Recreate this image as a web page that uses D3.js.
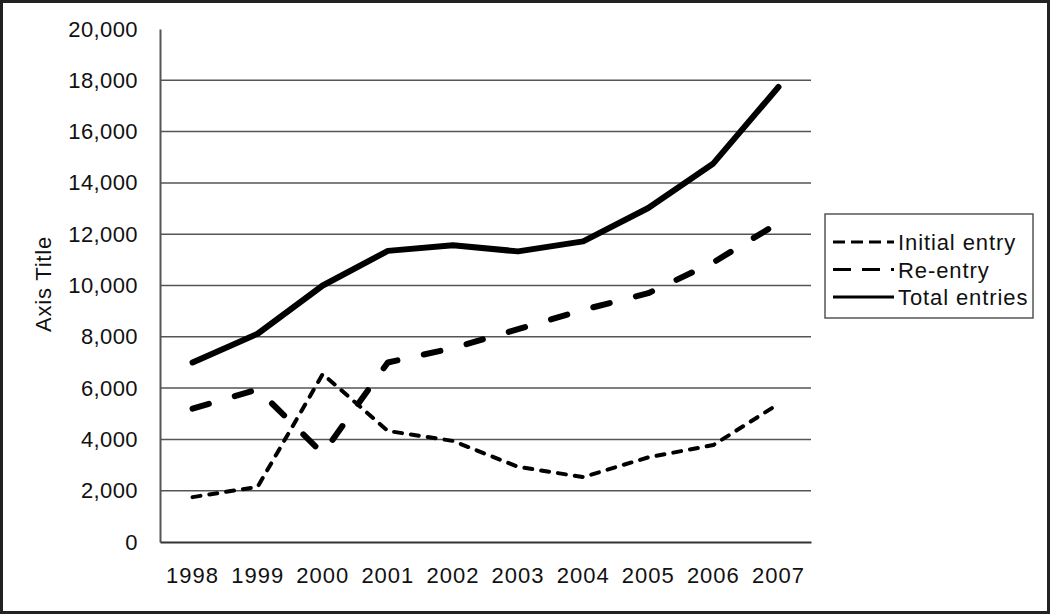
<!DOCTYPE html>
<html>
<head>
<meta charset="utf-8">
<script src="https://cdn.jsdelivr.net/npm/d3@7"></script>
<style>
  body { margin: 0; background: #fff; }
  text { font-family: "Liberation Sans", Arial, sans-serif; fill: #111; }
</style>
</head>
<body>
<div id="chart"></div>
<script>
// values
var years = ["1998", "1999", "2000", "2001", "2002", "2003", "2004", "2005", "2006", "2007"];
var initialEntry = [1750, 2150, 6550, 4330, 3940, 2930, 2530, 3300, 3780, 5380];
var reEntry = [5200, 5950, 3450, 7000, 7560, 8300, 9050, 9700, 10900, 12440];
var totalEntries = [7000, 8120, 10000, 11350, 11570, 11330, 11720, 13020, 14760, 17740];
var yTicks = [0, 2000, 4000, 6000, 8000, 10000, 12000, 14000, 16000, 18000, 20000];

var width = 1050, height = 614;
var plotLeft = 160, plotRight = 811, plotTop = 29, plotBottom = 542;

var svg = d3.select("#chart").append("svg")
	.attr("width", width)
	.attr("height", height);

// outer frame
svg.append("rect")
	.attr("x", 1.5).attr("y", 1.5)
	.attr("width", width - 3).attr("height", height - 3)
	.attr("fill", "none")
	.attr("stroke", "#222")
	.attr("stroke-width", 3);

var x = d3.scaleBand()
	.domain(years)
	.range([plotLeft, plotRight]);
var y = d3.scaleLinear()
	.domain([0, 20000])
	.range([plotBottom, plotTop]);

// gridlines (no line drawn at the top value)
svg.selectAll(".grid")
	.data(yTicks.filter(function(d) { return d > 0 && d < 20000; }))
	.enter()
	.append("line")
	.attr("class", "grid")
	.attr("x1", plotLeft).attr("x2", plotRight)
	.attr("y1", function(d) { return y(d); })
	.attr("y2", function(d) { return y(d); })
	.attr("stroke", "#555")
	.attr("stroke-width", 1.5);

var yAxis = d3.axisLeft(y)
	.tickValues(yTicks)
	.tickSize(0)
	.tickPadding(22)
	.tickFormat(d3.format(","));
var yax = svg.append("g")
	.attr("transform", "translate(" + plotLeft + ",0)")
	.call(yAxis);
yax.select(".domain").attr("stroke", "#555").attr("stroke-width", 2);
yax.selectAll("text")
	.style("font-size", "22px")
	.style("letter-spacing", "0.4px")
	.attr("fill", "#111");

var xAxis = d3.axisBottom(x).tickSize(0).tickPadding(25);
var xax = svg.append("g")
	.attr("transform", "translate(0," + plotBottom + ")")
	.call(xAxis);
xax.select(".domain").attr("stroke", "#333").attr("stroke-width", 2);
xax.selectAll("text")
	.style("font-size", "22px")
	.style("letter-spacing", "1px")
	.attr("fill", "#111");

svg.append("text")
	.attr("transform", "translate(51,284) rotate(-90)")
	.style("text-anchor", "middle")
	.style("font-size", "22px")
	.style("letter-spacing", "0.8px")
	.text("Axis Title");

var line = d3.line()
	.x(function(d, i) { return x(years[i]) + x.bandwidth() / 2; })
	.y(function(d) { return y(d); });

var series = [
	{ name: "Initial entry", values: initialEntry, width: 4, dash: "8,9", legendDash: "12,6" },
	{ name: "Re-entry", values: reEntry, width: 6, dash: "17,27", legendDash: "18,11" },
	{ name: "Total entries", values: totalEntries, width: 6, dash: null, legendDash: null }
];

series.forEach(function(s) {
	svg.append("path")
		.datum(s.values)
		.attr("d", line)
		.attr("fill", "none")
		.attr("stroke", "#000")
		.attr("stroke-width", s.width)
		.attr("stroke-linecap", "round")
		.attr("stroke-linejoin", "round")
		.attr("stroke-dasharray", s.dash);
});

// legend
svg.append("rect")
	.attr("x", 825).attr("y", 214)
	.attr("width", 208).attr("height", 104)
	.attr("fill", "#fff")
	.attr("stroke", "#555")
	.attr("stroke-width", 1.5);

series.forEach(function(s, i) {
	var ly = 242 + i * 27.5;
	svg.append("line")
		.attr("x1", 833).attr("x2", 894)
		.attr("y1", ly).attr("y2", ly)
		.attr("stroke", "#000")
		.attr("stroke-width", 3)
		.attr("stroke-dasharray", s.legendDash);
	svg.append("text")
		.attr("x", 898)
		.attr("y", ly + 8)
		.style("font-size", "22px")
		.style("letter-spacing", "0.9px")
		.text(s.name);
});
</script>
</body>
</html>
